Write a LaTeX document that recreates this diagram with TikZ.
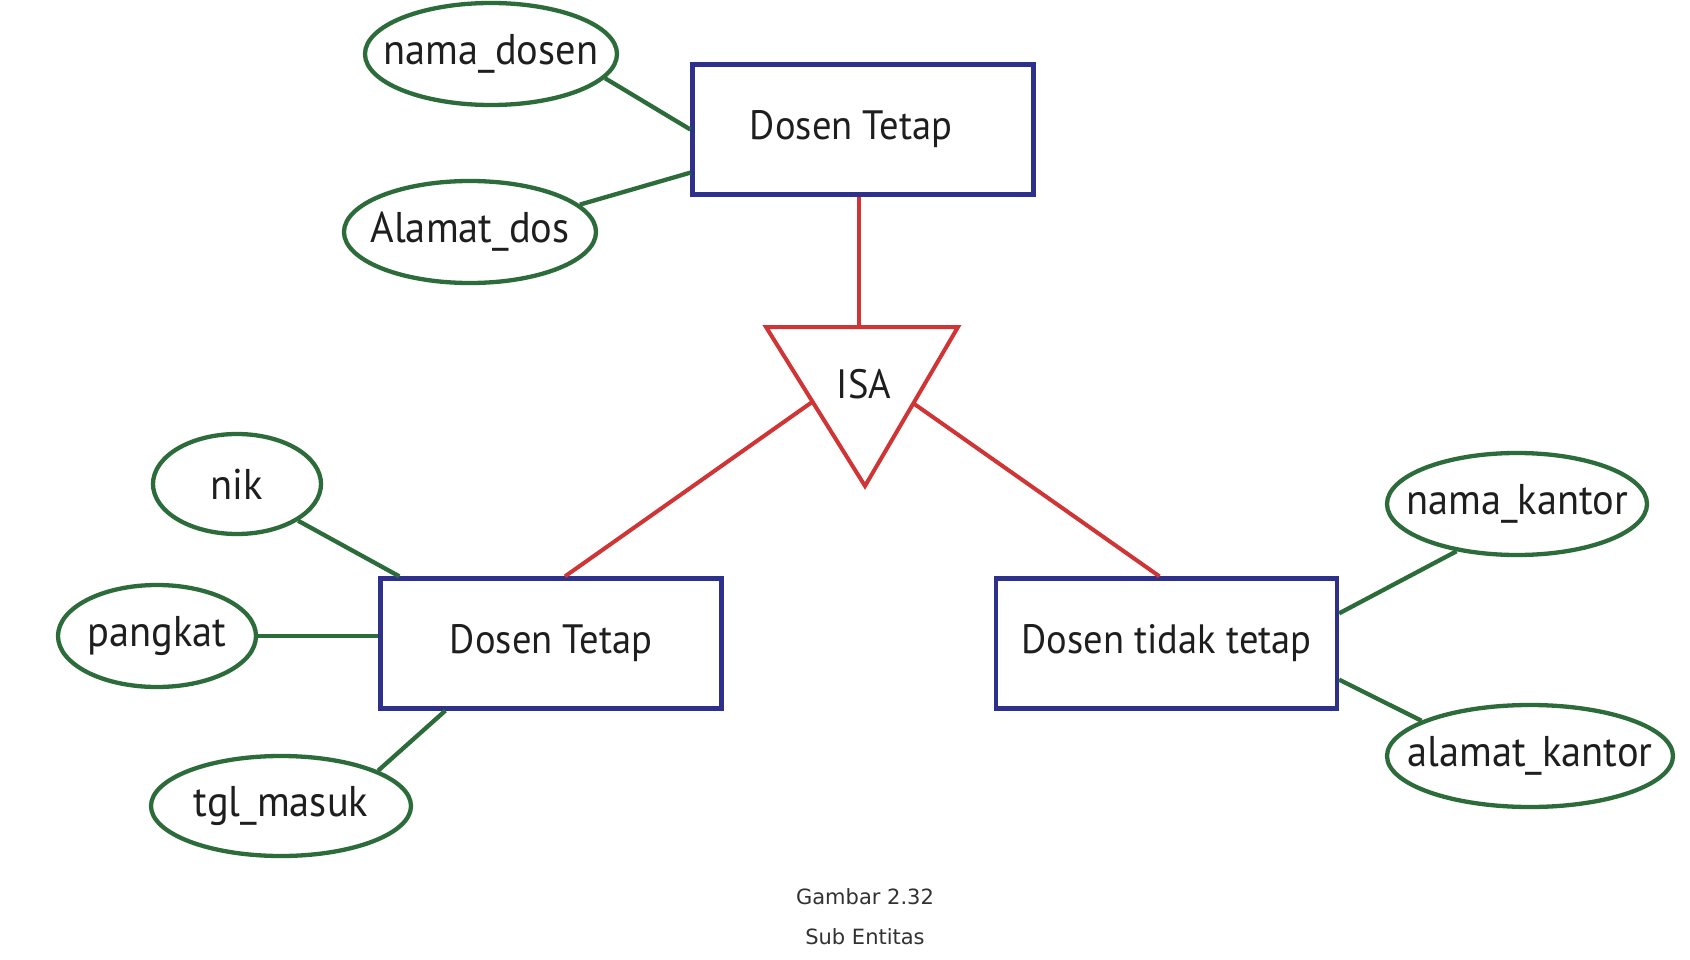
\documentclass[tikz,border=0pt]{standalone}
\usepackage{fontspec}
\setmainfont{PT Sans}[FakeStretch=0.94]
\newfontfamily\capfont{DejaVu Sans}
\usetikzlibrary{shapes.geometric,calc}
\definecolor{attrgreen}{RGB}{44,108,58}
\definecolor{entblue}{RGB}{46,49,140}
\definecolor{isared}{RGB}{208,52,52}
\definecolor{txtgray}{RGB}{30,30,30}
\definecolor{capgray}{RGB}{50,50,50}
\newcommand{\zw}[1]{\makebox[0pt]{#1}}
\begin{document}
\begin{tikzpicture}[x=1pt,y=-1pt,
  entity/.style={draw=entblue,line width=4.3pt,rectangle,minimum width=341pt,minimum height=130pt,inner sep=0pt,text=txtgray,font=\fontsize{41}{44}\selectfont},
  attr/.style={draw=attrgreen,line width=4.3pt,ellipse,inner sep=0pt,text=txtgray,font=\fontsize{43}{46}\selectfont},
  attrline/.style={draw=attrgreen,line width=4.3pt},
  isaline/.style={draw=isared,line width=4pt},
  captext/.style={text=capgray,font=\capfont\fontsize{21}{23}\selectfont,inner sep=0pt}]
\useasboundingbox (0,0) rectangle (1690,960);
\fill[white] (0,0) rectangle (1690,960);
% entities
\node[entity] (top) at (863,129.5) {\zw{\hspace*{-24pt}Dosen Tetap}};
\node[entity] (left) at (551,643.5) {Dosen Tetap};
\node[entity] (right) at (1166.5,643.5) {Dosen tidak tetap};
% ISA triangle
\coordinate (t1) at (766,327);
\coordinate (t2) at (958,327);
\coordinate (t3) at (865,486);
\draw[isaline,line join=miter] (t1) -- (t2) -- (t3) -- cycle;
\node[text=txtgray,font=\fontsize{41}{44}\selectfont,inner sep=0pt] (isa) at (864,384) {ISA};
\coordinate (ttop) at (859,327);
\coordinate (tl) at ($(t1)!0.47!(t3)$);
\coordinate (tr) at ($(t2)!0.48!(t3)$);
\draw[isaline] (ttop |- top.south) -- (ttop);
\draw[isaline] (tl) -- ([xshift=14pt]left.north);
\draw[isaline] (tr) -- ([xshift=-7pt]right.north);
% attributes
\node[attr,minimum width=252pt,minimum height=102pt] (nama) at (491,54) {\zw{nama\_dosen}};
\node[attr,minimum width=252pt,minimum height=102pt] (alamat) at (470,232) {\zw{Alamat\_dos}};
\node[attr,minimum width=168pt,minimum height=100pt] (nik) at (237,484) {\zw{nik}};
\node[attr,minimum width=198pt,minimum height=102pt] (pangkat) at (157,636) {\zw{pangkat}};
\node[attr,minimum width=260pt,minimum height=100pt] (tgl) at (281,806) {\zw{tgl\_masuk}};
\node[attr,minimum width=260pt,minimum height=102pt] (nk) at (1517,504) {\zw{nama\_kantor}};
\node[attr,minimum width=286pt,minimum height=102pt] (ak) at (1530,756) {\zw{alamat\_kantor}};
% attribute connectors
\draw[attrline] (nama.-12) -- (top.west);
\draw[attrline] (alamat.14) -- ([yshift=24pt]top.south west);
\draw[attrline] (nik.-31) -- ([xshift=21pt]left.north west);
\draw[attrline] (pangkat.east) -- (pangkat.east -| left.west);
\draw[attrline] (tgl.20) -- ([xshift=67pt]left.south west);
\draw[attrline] (nk.-142) -- ([yshift=-37pt]right.north east);
\draw[attrline] (ak.162) -- ([yshift=31pt]right.south east);
% caption
\node[captext] (cap1) at (865,897) {Gambar 2.32};
\node[captext] (cap2) at (865,937) {Sub Entitas};
\end{tikzpicture}
\end{document}
